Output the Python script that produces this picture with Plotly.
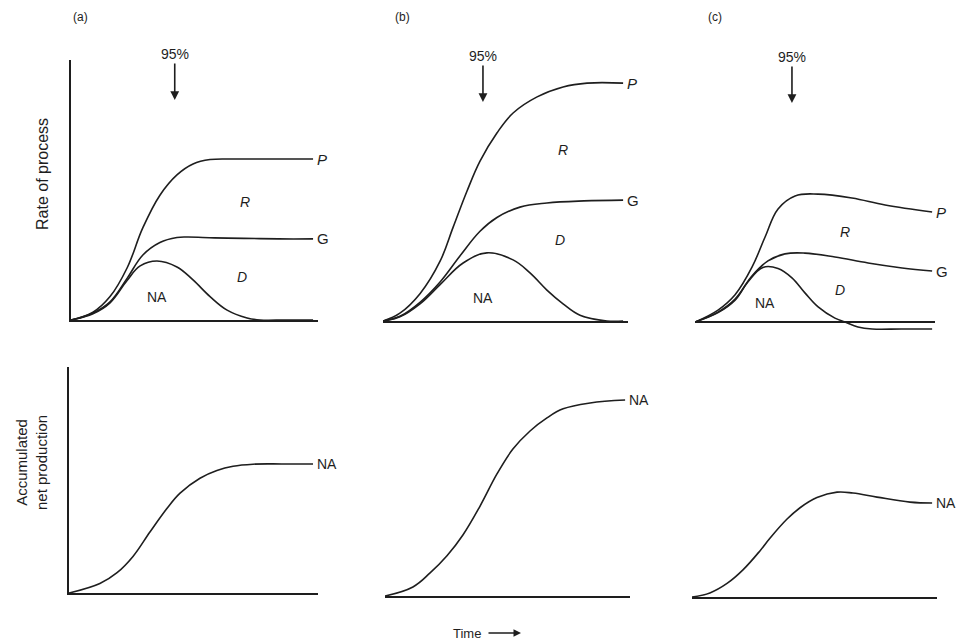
import plotly.graph_objects as go

W, H = 968, 644
INK = "#1e1e1e"
FONT = "Liberation Sans, Arial, sans-serif"

# ---------------- data ----------------
# Top row: rate of process (arbitrary units) against time (0-10)
a_P_t = [0, 0.89, 1.58, 2.27, 2.91, 3.60, 4.29, 4.94, 5.63, 6.6, 7.6, 8.7, 9.8]
a_P_v = [0, 0.30, 0.90, 2.00, 3.55, 4.80, 5.58, 6.00, 6.17, 6.19, 6.19, 6.19, 6.19]
a_G_t = [0, 0.89, 1.58, 2.27, 2.91, 3.60, 4.29, 4.70, 5.8, 7.0, 8.4, 9.8]
a_G_v = [0, 0.27, 0.70, 1.60, 2.50, 2.98, 3.17, 3.19, 3.16, 3.14, 3.12, 3.12]
a_N_t = [0, 0.89, 1.58, 2.27, 2.80, 3.48, 4.29, 4.94, 5.63, 6.32, 7.13, 7.65, 8.7, 9.8]
a_N_v = [0, 0.24, 0.66, 1.52, 2.08, 2.27, 2.04, 1.54, 0.90, 0.38, 0.08, 0.0, 0.0, 0.0]

b_P_t = [0, 0.69, 1.51, 2.33, 2.86, 3.43, 3.96, 4.65, 5.31, 6.29, 7.35, 8.33, 9.8]
b_P_v = [0, 0.30, 1.05, 2.30, 3.60, 5.00, 6.15, 7.23, 8.00, 8.62, 9.00, 9.15, 9.15]
b_G_t = [0, 0.69, 1.51, 2.33, 3.14, 3.96, 4.65, 5.59, 6.69, 8.2, 9.8]
b_G_v = [0, 0.18, 0.72, 1.50, 2.50, 3.45, 3.98, 4.38, 4.54, 4.62, 4.65]
b_N_t = [0, 0.69, 1.51, 2.33, 3.27, 4.24, 5.31, 6.00, 6.69, 7.35, 8.04, 9.14, 9.8]
b_N_v = [0, 0.16, 0.66, 1.40, 2.23, 2.62, 2.35, 1.85, 1.19, 0.66, 0.22, 0.0, 0.0]

c_P_t = [0, 0.96, 1.67, 2.38, 2.92, 3.46, 4.17, 5.13, 6.54, 7.92, 9.88]
c_P_v = [0, 0.46, 1.05, 2.12, 3.27, 4.35, 4.85, 4.92, 4.77, 4.50, 4.23]
c_G_t = [0, 0.96, 1.67, 2.38, 3.04, 3.75, 4.58, 5.83, 7.21, 8.63, 9.88]
c_G_v = [0, 0.38, 0.88, 1.78, 2.35, 2.62, 2.65, 2.50, 2.27, 2.08, 1.96]
c_N_t = [0, 0.96, 1.67, 2.21, 2.83, 3.46, 4.04, 4.58, 5.13, 5.83, 6.25, 6.79, 7.38, 8.6, 9.88]
c_N_v = [0, 0.36, 0.84, 1.55, 2.10, 2.06, 1.70, 1.12, 0.58, 0.15, 0.0, -0.19, -0.27, -0.27, -0.27]

# Bottom row: accumulated net production
a_acc_t = [0, 1.24, 1.93, 2.57, 3.25, 3.94, 4.46, 5.26, 5.94, 6.59, 7.39, 8.6, 9.8]
a_acc_v = [0, 0.42, 0.90, 1.62, 2.70, 3.75, 4.42, 5.08, 5.42, 5.61, 5.70, 5.71, 5.71]
b_acc_t = [0, 1.14, 1.84, 2.53, 3.18, 3.88, 4.57, 5.22, 5.92, 6.61, 7.27, 8.37, 9.8]
b_acc_v = [0, 0.40, 1.02, 1.78, 2.70, 3.98, 5.40, 6.50, 7.30, 7.88, 8.28, 8.54, 8.67]
c_acc_t = [0, 0.73, 1.43, 2.08, 2.78, 3.18, 3.88, 4.41, 5.10, 5.92, 6.57, 7.55, 8.90, 9.8]
c_acc_v = [0, 0.18, 0.60, 1.20, 2.05, 2.60, 3.45, 3.95, 4.40, 4.64, 4.60, 4.42, 4.20, 4.16]

panel_letters = ["(a)", "(b)", "(c)"]
arrow_time = [4.2, 4.08, 4.04]
arrow_rate = [8.46, 8.42, 8.42]
R_pos = [(7.04, 4.54), (7.35, 6.58), (6.25, 3.46)]
D_pos = [(6.92, 1.65), (7.22, 3.12), (6.04, 1.23)]
NA_pos = [(3.48, 0.88), (4.08, 0.88), (2.92, 0.73)]

# ---------------- layout helpers ----------------
def xdom(p0, p1):
    return [p0 / W, p1 / W]

def ydom(top, bottom):
    return [1 - bottom / H, 1 - top / H]

fig = go.Figure()

panels = [
    # (xaxis id, yaxis id, x px domain, y px domain (top,bottom), y range)
    ("x", "y", (71, 318), (60, 320), [0, 10]),
    ("x2", "y2", (383, 628), (61, 321), [0, 10]),
    ("x3", "y3", (695, 935), (62, 332.4), [-0.4, 10]),
    ("x4", "y4", (69, 318), (367, 593), [0, 10]),
    ("x5", "y5", (385, 630), (370, 596), [0, 10]),
    ("x6", "y6", (692, 937), (371, 597), [0, 10]),
]

top_series = [
    [(a_P_t, a_P_v, "<i>P</i>"), (a_G_t, a_G_v, "G"), (a_N_t, a_N_v, None)],
    [(b_P_t, b_P_v, "<i>P</i>"), (b_G_t, b_G_v, "G"), (b_N_t, b_N_v, None)],
    [(c_P_t, c_P_v, "<i>P</i>"), (c_G_t, c_G_v, "G"), (c_N_t, c_N_v, None)],
]
bottom_series = [(a_acc_t, a_acc_v), (b_acc_t, b_acc_v), (c_acc_t, c_acc_v)]

line_style = dict(color=INK, width=1.6, shape="spline", smoothing=1.1)

annotations = []

for i in range(3):
    xa, ya = panels[i][0], panels[i][1]
    for t, v, lab in top_series[i]:
        fig.add_trace(go.Scatter(x=t, y=v, mode="lines", line=line_style,
                                 xaxis=xa, yaxis=ya, showlegend=False,
                                 hoverinfo="skip"))
        if lab:
            annotations.append(dict(
                x=t[-1], y=v[-1], xref=xa, yref=ya, text=lab, showarrow=False,
                xanchor="left", yanchor="middle", xshift=2,
                font=dict(family=FONT, size=15, color=INK),
            ))
    # interior labels
    for (px, py), txt in ((R_pos[i], "<i>R</i>"), (D_pos[i], "<i>D</i>"), (NA_pos[i], "NA")):
        annotations.append(dict(x=px, y=py, xref=xa, yref=ya, text=txt,
                                showarrow=False, xanchor="center", yanchor="middle",
                                font=dict(family=FONT, size=14, color=INK)))
    # 95% arrow
    annotations.append(dict(
        x=arrow_time[i], y=arrow_rate[i], xref=xa, yref=ya, text="95%",
        showarrow=True, ax=0, ay=-46, arrowhead=2, arrowsize=1.1,
        arrowwidth=1.6, arrowcolor=INK,
        font=dict(family=FONT, size=14, color=INK),
    ))

for i in range(3):
    xa, ya = panels[3 + i][0], panels[3 + i][1]
    t, v = bottom_series[i]
    fig.add_trace(go.Scatter(x=t, y=v, mode="lines", line=line_style,
                             xaxis=xa, yaxis=ya, showlegend=False,
                             hoverinfo="skip"))
    annotations.append(dict(
        x=t[-1], y=v[-1], xref=xa, yref=ya, text="NA", showarrow=False,
        xanchor="left", yanchor="middle", xshift=2,
        font=dict(family=FONT, size=14, color=INK),
    ))

# axes
layout_axes = {}
for k, (xa, ya, (x0, x1), (y0, y1), yr) in enumerate(panels):
    xkey = "xaxis" if xa == "x" else "xaxis" + xa[1:]
    ykey = "yaxis" if ya == "y" else "yaxis" + ya[1:]
    first_col = k in (0, 3)
    panel_c_top = (k == 2)
    layout_axes[xkey] = dict(
        domain=xdom(x0, x1), range=[0, 10], anchor=ya,
        showgrid=False, zeroline=False, showticklabels=False, ticks="",
        showline=not panel_c_top, linecolor=INK, linewidth=1.8,
        fixedrange=True,
    )
    layout_axes[ykey] = dict(
        domain=ydom(y0, y1), range=yr, anchor=xa,
        showgrid=False, showticklabels=False, ticks="",
        zeroline=panel_c_top, zerolinecolor=INK, zerolinewidth=1.8,
        showline=first_col, linecolor=INK, linewidth=1.8,
        fixedrange=True,
    )

def paper_text(px, py, text, size, angle=0):
    return dict(x=px / W, y=1 - py / H, xref="paper", yref="paper",
                text=text, showarrow=False, textangle=angle,
                xanchor="center", yanchor="middle",
                font=dict(family=FONT, size=size, color=INK))

# panel letters
letter_px = [(80, 17), (402, 17), (715, 17)]
for (px, py), txt in zip(letter_px, panel_letters):
    annotations.append(paper_text(px, py, txt, 12))

# axis titles
annotations.append(paper_text(42, 174, "Rate of process", 16, -90))
annotations.append(paper_text(31, 462, "Accumulated<br>net production", 15, -90))
annotations.append(paper_text(467, 633, "Time", 13))
annotations.append(dict(x=521 / W, y=1 - 633 / H, xref="paper", yref="paper",
                        ax=-34, ay=0, text="", showarrow=True, arrowhead=2,
                        arrowsize=1, arrowwidth=1.5, arrowcolor=INK))

fig.update_layout(
    width=W, height=H,
    margin=dict(l=0, r=0, t=0, b=0),
    paper_bgcolor="white", plot_bgcolor="rgba(0,0,0,0)",
    showlegend=False,
    annotations=annotations,
    **layout_axes,
)

fig.write_html("out.html",
               config={"displayModeBar": False, "staticPlot": True},
               post_script="document.body.style.margin='0px';document.body.style.overflow='hidden';")
